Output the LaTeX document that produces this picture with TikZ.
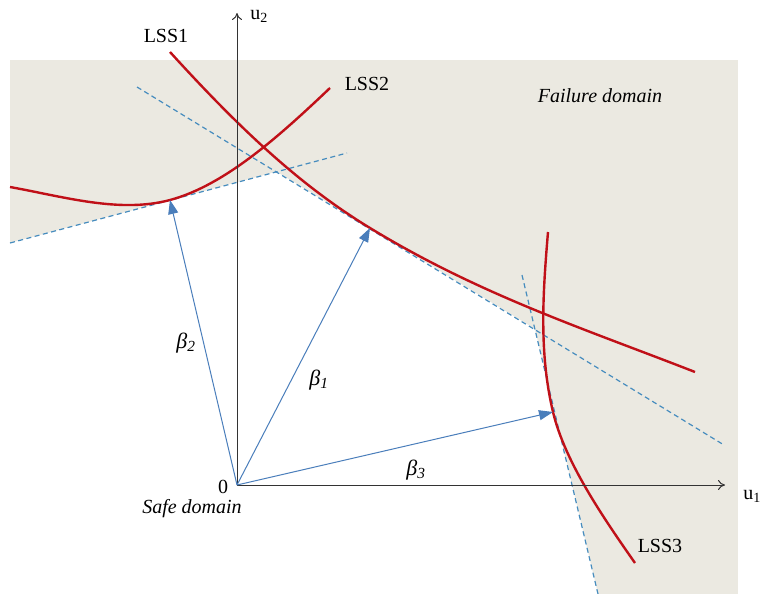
\documentclass[tikz,border=0pt]{standalone}
\usepackage{fontspec}
\setmainfont{Liberation Serif}
\usetikzlibrary{arrows.meta}
\definecolor{failgray}{RGB}{235,233,225}
\definecolor{lssred}{RGB}{192,16,24}
\definecolor{betablue}{RGB}{74,126,187}
\definecolor{tanblue}{RGB}{70,140,190}
\begin{document}
\begin{tikzpicture}[x=1pt,y=-1pt,
  lss/.style={draw=lssred,line width=2.4pt},
  tangent/.style={draw=tanblue,line width=1.2pt,dash pattern=on 5pt off 3.5pt},
  axis/.style={draw=black!80,line width=1pt,-{To[length=7pt,width=10pt]}},
  beta/.style={draw=betablue,line width=1pt,-{Triangle[length=14pt,width=10pt]}},
  lbl/.style={font=\fontsize{20}{24}\selectfont,inner sep=0pt},
  ilbl/.style={font=\fontsize{20}{24}\selectfont\itshape,inner sep=0pt},
  blbl/.style={font=\fontsize{22}{26}\selectfont\itshape,inner sep=0pt}]
\useasboundingbox (0,0) rectangle (763,594);
% failure domain background
\fill[failgray] (10,60) rectangle (738,594);
% safe (linearised) domain
\fill[white] (10,243) -- (276.5,171.8) -- (534.8,328.9) -- (598,594) -- (10,594) -- cycle;
% key points
\coordinate (O) at (237,485);
\coordinate (T1) at (370,228);
\coordinate (T2) at (170,200);
\coordinate (T3) at (553,412);
% tangent (FORM) lines
\coordinate (D2a) at (10,243);  \coordinate (D2b) at (347,153);
\coordinate (D1a) at (137,87);  \coordinate (D1b) at (724,445);
\coordinate (D3a) at (522,275); \coordinate (D3b) at (598,594);
\draw[tangent] (D2a) -- (D2b);
\draw[tangent] (D1a) -- (D1b);
\draw[tangent] (D3a) -- (D3b);
% limit state surfaces
\coordinate (L1a) at (170,52);  \coordinate (L1b) at (695,372);
\coordinate (L2a) at (10,187);  \coordinate (L2b) at (330,88);
\coordinate (L3a) at (548,232); \coordinate (L3b) at (635,563);
\draw[lss] (L1a) .. controls (240,129) and (300,185.4) .. (T1)
                 .. controls (480,295) and (585,329) .. (L1b);
\draw[lss] (L2a) .. controls (65,197) and (120,213.4) .. (T2)
                 .. controls (225,185.3) and (280,135.5) .. (L2b);
\draw[lss] (L3a) .. controls (543,292) and (538.7,352) .. (T3)
                 .. controls (564.9,462) and (603.5,518) .. (L3b);
% axes
\coordinate (X1) at (725,485);
\coordinate (X2) at (237,13);
\draw[axis] (O) -- (X1);
\draw[axis] (O) -- (X2);
% reliability indices
\draw[beta] (O) -- (T1);
\draw[beta] (O) -- (T2);
\draw[beta] (O) -- (T3);
% labels
\node[lbl] (u1) at (752,496) {u\textsubscript{1}};
\node[lbl] (u2) at (259,16) {u\textsubscript{2}};
\node[lbl] (zero) at (223,487) {0};
\node[ilbl] (safe) at (192,509) {Safe domain};
\node[ilbl] (fail) at (600,96) {Failure domain};
\node[lbl] (lss1) at (166,36) {LSS1};
\node[lbl] (lss2) at (367,84) {LSS2};
\node[lbl] (lss3) at (660,546) {LSS3};
\node[blbl] (b2) at (186,343) {β\textsubscript{2}};
\node[blbl] (b1) at (319,380) {β\textsubscript{1}};
\node[blbl] (b3) at (416,470) {β\textsubscript{3}};
\end{tikzpicture}
\end{document}
